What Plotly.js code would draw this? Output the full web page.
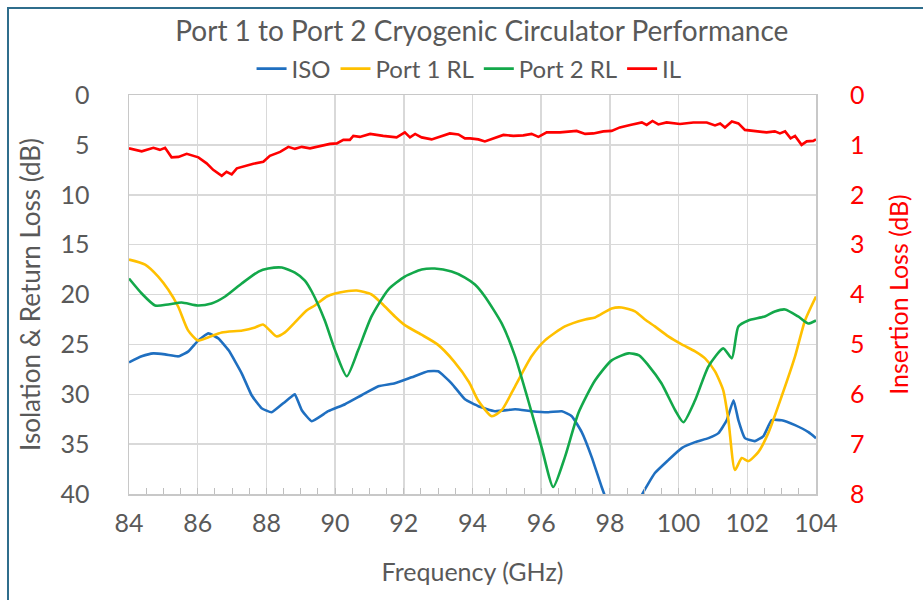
<!DOCTYPE html>
<html>
<head>
<meta charset="utf-8">
<script src="https://cdn.plot.ly/plotly-3.0.1.min.js"></script>
<style>
  html, body { margin: 0; padding: 0; background: #fff; }
  #wrap { position: relative; width: 923px; height: 600px; overflow: hidden; }
  #chart { width: 923px; height: 600px; }
  #frame { position: absolute; left: 7px; top: 7px; width: 930px; height: 610px;
           border-left: 2px solid #2f6d8c; border-top: 2px solid #2f6d8c; pointer-events: none; }
</style>
</head>
<body>
<div id="wrap"><div id="chart"></div><div id="frame"></div></div>
<script>
// ISO (isolation, dB)
const isoFreq = [84.0,84.37,84.71,85.05,85.44,85.73,86.02,86.31,86.6,86.9,87.28,87.57,87.86,88.15,88.49,88.78,88.83,89.03,89.32,89.8,90.29,90.77,91.26,91.74,92.23,92.71,93.0,93.39,93.78,94.17,94.65,95.24,95.72,96.21,96.6,96.89,97.18,97.47,97.76,97.95,98.2,98.5,98.75,98.93,99.31,99.7,100.09,100.48,100.87,101.16,101.4,101.6,101.74,101.93,102.22,102.47,102.71,103.0,103.39,103.78,104.0];
const isoDb = [26.8,26.2,25.9,26.0,26.2,25.7,24.6,23.9,24.4,25.6,27.9,30.1,31.4,31.8,30.9,30.1,30.0,31.6,32.7,31.7,31.0,30.1,29.2,28.9,28.3,27.7,27.7,28.9,30.5,31.2,31.7,31.5,31.7,31.8,31.7,32.2,33.8,36.3,39.3,41.0,42.5,43.0,42.0,40.1,37.9,36.6,35.4,34.8,34.4,33.9,32.6,30.6,32.6,34.4,34.7,34.2,32.6,32.6,33.1,33.8,34.4];

// Port 1 RL (dB)
const p1Freq = [84.0,84.47,84.85,85.14,85.43,85.72,86.0,86.3,86.7,87.3,87.67,87.9,88.1,88.3,88.54,88.83,89.17,89.41,89.76,90.0,90.29,90.63,91.06,91.36,91.74,92.04,92.5,92.98,93.46,93.9,94.16,94.56,94.85,95.24,95.72,96.11,96.69,97.28,97.57,98.05,98.34,98.73,99.02,99.31,99.7,100.09,100.48,100.77,101.06,101.3,101.45,101.64,101.84,102.03,102.32,102.61,103.0,103.39,103.68,104.0];
const p1Db = [16.5,17.0,18.2,19.5,21.2,23.6,24.6,24.3,23.8,23.6,23.3,23.0,23.6,24.2,23.8,22.8,21.6,21.1,20.2,19.9,19.7,19.6,20.0,20.9,22.2,23.1,24.0,25.0,26.7,28.8,30.6,32.2,31.6,29.2,26.2,24.6,23.2,22.5,22.3,21.4,21.3,21.7,22.5,23.2,24.2,25.0,25.7,26.4,27.7,29.6,32.6,37.6,36.4,36.7,35.8,33.9,30.2,26.2,22.6,20.2];

// Port 2 RL (dB)
const p2Freq = [84.0,84.37,84.76,85.14,85.53,86.0,86.4,86.8,87.28,87.77,88.05,88.45,88.83,89.12,89.32,89.7,90.0,90.34,90.67,91.06,91.55,92.03,92.52,92.9,93.39,93.78,94.07,94.36,94.85,95.24,95.62,96.01,96.35,96.69,97.08,97.57,98.05,98.54,98.85,99.12,99.5,99.9,100.14,100.48,100.87,101.3,101.55,101.74,102.03,102.51,102.8,103.1,103.48,103.77,104.0];
const p2Db = [18.4,19.9,21.1,21.0,20.8,21.1,20.9,20.2,18.9,17.7,17.4,17.3,17.8,18.6,19.7,22.6,25.6,28.2,25.6,22.2,19.5,18.2,17.5,17.4,17.7,18.3,19.0,20.2,22.9,26.2,30.6,35.3,39.3,36.3,31.9,28.6,26.6,25.9,26.1,27.1,28.9,31.6,32.8,30.6,27.2,25.4,26.4,23.2,22.6,22.2,21.7,21.5,22.2,22.9,22.6];

// IL (insertion loss, dB)
const ilFreq = [84.0,84.37,84.71,84.9,85.05,85.24,85.44,85.68,86.02,86.26,86.45,86.7,86.84,86.99,87.14,87.38,87.62,87.91,88.1,88.4,88.64,88.83,89.03,89.27,89.56,89.85,90.05,90.24,90.43,90.53,90.72,91.02,91.4,91.79,92.03,92.18,92.33,92.52,92.81,93.05,93.34,93.59,93.78,93.93,94.17,94.36,94.61,94.9,95.19,95.48,95.72,95.92,96.16,96.55,97.03,97.28,97.52,97.81,98.05,98.29,98.59,98.93,99.07,99.24,99.41,99.65,100.04,100.43,100.82,101.06,101.21,101.35,101.55,101.74,101.93,102.18,102.56,102.8,102.95,103.1,103.26,103.39,103.58,103.73,103.92,104.0];
const ilDb = [1.07,1.13,1.06,1.10,1.06,1.25,1.24,1.18,1.25,1.37,1.50,1.62,1.54,1.59,1.47,1.42,1.38,1.34,1.22,1.14,1.04,1.08,1.04,1.07,1.02,0.98,0.97,0.90,0.90,0.82,0.84,0.78,0.82,0.85,0.75,0.85,0.78,0.85,0.89,0.84,0.77,0.79,0.87,0.87,0.89,0.93,0.87,0.80,0.82,0.81,0.78,0.84,0.75,0.75,0.72,0.78,0.77,0.73,0.72,0.65,0.60,0.55,0.60,0.52,0.59,0.55,0.58,0.55,0.55,0.61,0.57,0.65,0.53,0.57,0.70,0.72,0.75,0.73,0.77,0.73,0.87,0.82,1.00,0.93,0.92,0.89];

const seriesNames = ['ISO', 'Port 1 RL', 'Port 2 RL', 'IL'];
const seriesColors = ['#1f6fc0', '#ffc000', '#13a84a', '#ff0000'];

const traces = [
  {x: isoFreq, y: isoDb, name: seriesNames[0], yaxis: 'y', line: {color: seriesColors[0], width: 2.6, shape: 'spline', smoothing: 0.4}},
  {x: p1Freq, y: p1Db, name: seriesNames[1], yaxis: 'y', line: {color: seriesColors[1], width: 2.6, shape: 'spline', smoothing: 0.6}},
  {x: p2Freq, y: p2Db, name: seriesNames[2], yaxis: 'y', line: {color: seriesColors[2], width: 2.6, shape: 'spline', smoothing: 0.6}},
  {x: ilFreq, y: ilDb, name: seriesNames[3], yaxis: 'y2', line: {color: seriesColors[3], width: 2.6}}
].map(t => Object.assign({type: 'scatter', mode: 'lines', hoverinfo: 'skip', cliponaxis: true}, t));

const grid = '#d9d9d9';
const layout = {
  width: 923, height: 600,
  margin: {l: 129, r: 107, t: 95, b: 106, pad: 0},
  paper_bgcolor: '#ffffff', plot_bgcolor: '#ffffff',
  font: {family: 'Lato, "Open Sans", sans-serif', color: '#595959', size: 24},
  title: {text: 'Port 1 to Port 2 Cryogenic Circulator Performance', font: {size: 28, color: '#595959'},
          x: 0.522, xref: 'container', xanchor: 'center', y: 0.948, yref: 'container', yanchor: 'middle'},
  showlegend: true,
  legend: {orientation: 'h', x: 0.495, xanchor: 'center', y: 1.065, yanchor: 'middle',
           font: {size: 24, color: '#595959'}, itemwidth: 30, tracegroupgap: 0, bgcolor: 'rgba(0,0,0,0)'},
  xaxis: {range: [84, 104], tick0: 84, dtick: 2, showgrid: true, gridcolor: grid, gridwidth: 1.5,
          showline: true, linecolor: '#c8c8c8', linewidth: 1.5, mirror: true, zeroline: false,
          ticks: 'inside', ticklen: 6, tickcolor: '#bfbfbf', tickwidth: 1,
          minor: {dtick: 0.5, tick0: 84, ticks: 'inside', ticklen: 6, tickcolor: '#bfbfbf', showgrid: false},
          tickfont: {size: 25, color: '#595959'}, ticklabelstandoff: 6,
          title: {text: 'Frequency (GHz)', font: {size: 25, color: '#595959'}, standoff: 28}},
  yaxis: {range: [40, 0], tick0: 0, dtick: 5, showgrid: true, gridcolor: grid, gridwidth: 1.5,
          showline: true, linecolor: '#c8c8c8', linewidth: 1.5, mirror: true, zeroline: false, ticks: '',
          tickfont: {size: 25, color: '#595959'}, ticklabelstandoff: 33,
          title: {text: 'Isolation & Return Loss (dB)', font: {size: 26, color: '#595959'}, standoff: 12}},
  yaxis2: {range: [8, 0], tick0: 0, dtick: 1, overlaying: 'y', side: 'right', showgrid: false,
           showline: false, zeroline: false, ticks: '',
           tickfont: {size: 25, color: '#ff0000'}, ticklabelstandoff: 33,
           title: {text: 'Insertion Loss (dB)', font: {size: 25, color: '#ff0000'}, standoff: 26}}
};

Plotly.newPlot('chart', traces, layout, {displayModeBar: false, staticPlot: true});
</script>
</body>
</html>
